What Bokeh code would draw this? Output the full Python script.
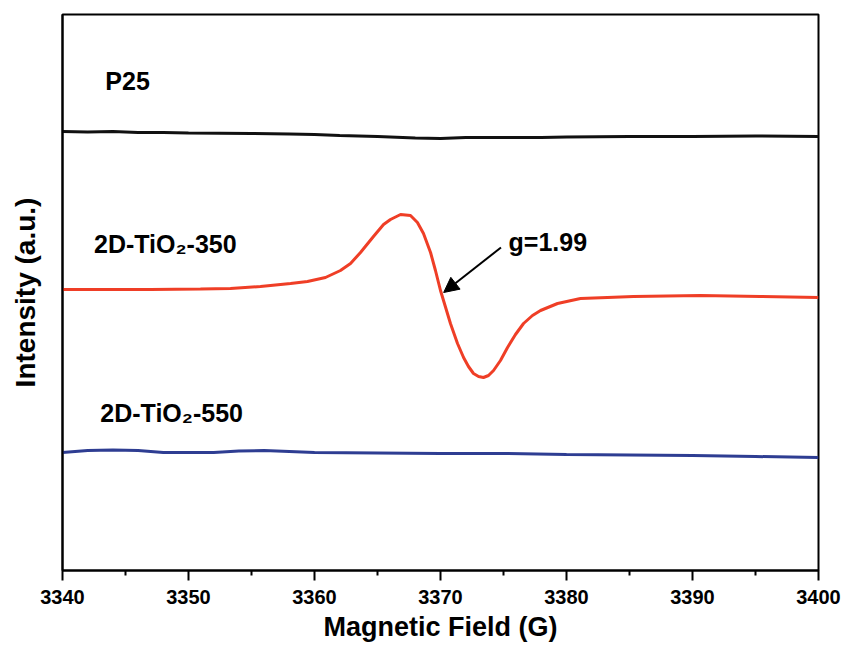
from bokeh.plotting import figure
from bokeh.models import Range1d, FixedTicker, Arrow, NormalHead, ColumnDataSource
from bokeh.core.properties import value
from bokeh.embed import file_html
from bokeh.resources import INLINE

# ---- data ----
p25_field = [3340, 3342, 3344, 3346, 3348, 3350, 3355, 3358, 3360, 3362, 3365, 3368, 3370,
             3372, 3375, 3378, 3380, 3385, 3390, 3395, 3400]
p25_int = [441, 440.5, 441, 440, 440, 439.5, 439, 438.5, 438, 437, 436, 434.5, 434,
           435, 435, 435, 435.5, 436, 436, 436.5, 436]

t350_field = [3340.00, 3346.98, 3350.95, 3353.33, 3355.71, 3358.10, 3359.44, 3360.87, 3362.06,
              3362.86, 3363.65, 3364.68, 3365.48, 3366.03, 3366.83, 3367.62, 3368.17, 3368.65,
              3369.21, 3369.60, 3370.00, 3370.79, 3371.35, 3371.83, 3372.22, 3372.62, 3373.02,
              3373.41, 3373.81, 3374.21, 3374.76, 3375.32, 3375.95, 3376.59, 3377.30, 3377.94,
              3379.29, 3381.11, 3383.25, 3385.32, 3390.63, 3395.40, 3400.00]
t350_int = [283, 283, 283.5, 284, 286, 289, 291, 295, 302,
            309, 320, 336, 348, 353, 358, 357, 350, 339,
            320, 302, 282, 249, 229, 215, 206, 199, 196,
            195, 197, 202, 212, 225, 238, 249, 257, 262,
            269, 274, 275, 276, 277, 276, 275]

t550_field = [3340, 3342, 3344, 3346, 3348, 3350, 3352, 3354, 3356, 3358, 3360, 3365, 3370,
              3375, 3380, 3385, 3390, 3395, 3400]
t550_int = [120, 122, 122.5, 122, 120, 120, 120, 121.5, 122, 121, 120, 119.5, 119,
            119, 118, 117.5, 117, 116, 115]

x_ticks = [3340, 3350, 3360, 3370, 3380, 3390, 3400]
x_minor = [3345, 3355, 3365, 3375, 3385, 3395]

labels = ["P25", "2D-TiO\u2082-350", "2D-TiO\u2082-550"]
label_x = [3343.4, 3342.5, 3343.0]
label_y = [492, 329, 160]

g_text = "g=1.99"
g_x, g_y = 3375.4, 331
arrow_tail = (3374.8, 325)
arrow_head = (3370.25, 280)

FONT = "Liberation Sans"

p = figure(width=846, height=650, output_backend="svg", toolbar_location=None,
           x_range=Range1d(3340, 3400), y_range=Range1d(2, 558),
           min_border_left=62, min_border_right=28, min_border_top=14, min_border_bottom=80)
p.background_fill_color = "white"
p.border_fill_color = "white"
p.outline_line_color = "black"
p.outline_line_width = 2
p.grid.visible = False

p.line(p25_field, p25_int, line_color="#111111", line_width=3)
p.line(t350_field, t350_int, line_color="#EF3E26", line_width=3)
p.line(t550_field, t550_int, line_color="#2E3D92", line_width=3)

src = ColumnDataSource(dict(x=label_x, y=label_y, t=labels))
p.text("x", "y", text="t", source=src, text_font=value(FONT), text_font_style="bold",
       text_font_size="25px", text_align="left", text_baseline="middle", text_color="black")
p.text([g_x], [g_y], text=[g_text], text_font=value(FONT), text_font_style="bold",
       text_font_size="25px", text_align="left", text_baseline="middle", text_color="black")

p.add_layout(Arrow(end=NormalHead(size=15, fill_color="black", line_color="black"),
                   x_start=arrow_tail[0], y_start=arrow_tail[1],
                   x_end=arrow_head[0], y_end=arrow_head[1],
                   line_color="black", line_width=2))

xa = p.xaxis[0]
xa.ticker = FixedTicker(ticks=x_ticks, minor_ticks=x_minor)
xa.axis_line_width = 2
xa.major_tick_line_width = 2
xa.minor_tick_line_width = 2
xa.major_tick_in = 0
xa.major_tick_out = 10
xa.minor_tick_in = 0
xa.minor_tick_out = 5
xa.major_label_text_font = FONT
xa.major_label_text_font_style = "bold"
xa.major_label_text_font_size = "20px"
xa.major_label_text_color = "black"
xa.major_label_standoff = 9
xa.axis_label = "Magnetic Field (G)"
xa.axis_label_text_font = FONT
xa.axis_label_text_font_style = "bold"
xa.axis_label_text_font_size = "27px"
xa.axis_label_text_color = "black"
xa.axis_label_standoff = 5

ya = p.yaxis[0]
ya.ticker = FixedTicker(ticks=[])
ya.axis_line_width = 2
ya.major_tick_out = 0
ya.major_tick_in = 0
ya.minor_tick_out = 0
ya.minor_tick_in = 0
ya.major_label_text_font_size = "0px"
ya.axis_label = "Intensity (a.u.)"
ya.axis_label_text_font = FONT
ya.axis_label_text_font_style = "bold"
ya.axis_label_text_font_size = "28px"
ya.axis_label_text_color = "black"
ya.axis_label_standoff = 22

open("out.html", "w").write(file_html(p, INLINE))
